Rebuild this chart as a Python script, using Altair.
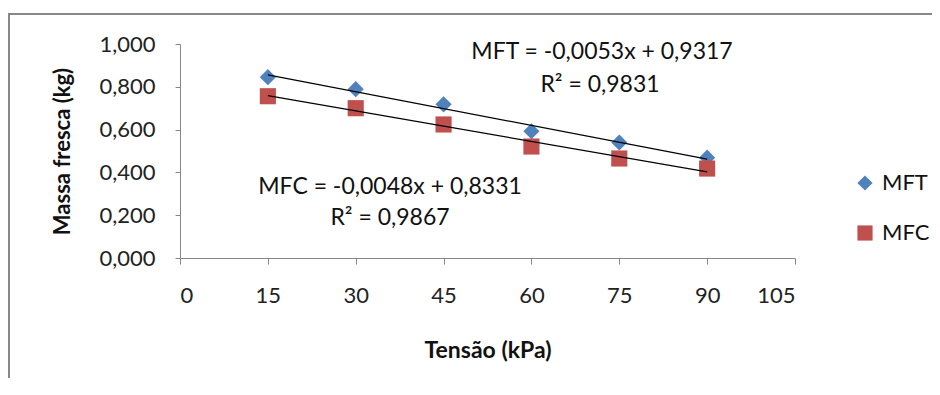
import altair as alt
import pandas as pd

tensao = [15, 30, 45, 60, 75, 90]
mft = [0.845, 0.789, 0.718, 0.592, 0.540, 0.469]
mfc = [0.756, 0.700, 0.624, 0.521, 0.465, 0.418]
series = ["MFT", "MFC"]
x_ticks = [0, 15, 30, 45, 60, 75, 90, 105]
y_ticks = [0.0, 0.2, 0.4, 0.6, 0.8, 1.0]
eq_mft = "MFT = -0,0053x + 0,9317"
r2_mft = "R² = 0,9831"
eq_mfc = "MFC = -0,0048x + 0,8331"
r2_mfc = "R² = 0,9867"

df = pd.DataFrame({
    "Tensao": tensao * 2,
    "Massa": mft + mfc,
    "Serie": [series[0]] * len(tensao) + [series[1]] * len(tensao),
})
one = pd.DataFrame({"k": [0]})

FONT = "Lato"
W, H = 615, 214
LBL = 22

xs = alt.X("Tensao:Q", scale=alt.Scale(domain=[0, 105], nice=False),
           axis=alt.Axis(values=x_ticks, title="Tensão (kPa)", grid=False,
                         tickSize=6, labelPadding=21, titlePadding=33,
                         labelFontSize=LBL, titleFontSize=23, titleFontWeight="bold",
                         labelFont=FONT, titleFont=FONT, labelColor="#222",
                         titleColor="#111", domainColor="#868686", tickColor="#868686"))
ys = alt.Y("Massa:Q", scale=alt.Scale(domain=[0, 1], nice=False),
           axis=alt.Axis(values=y_ticks, title="Massa fresca (kg)", grid=False,
                         labelExpr="replace(format(datum.value, '.3f'), '.', ',')",
                         tickSize=5, labelPadding=20, titlePadding=24,
                         labelFontSize=LBL, titleFontSize=22, titleFontWeight="bold",
                         labelFont=FONT, titleFont=FONT, labelColor="#222",
                         titleColor="#111", domainColor="#868686", tickColor="#868686"))

legend = alt.Legend(title=None, orient="none", legendX=674, legendY=128,
                    labelFontSize=22, labelFont=FONT, labelColor="#111",
                    symbolSize=230, rowPadding=28, labelOffset=6, symbolStrokeWidth=0)

base = alt.Chart(df)

points = base.mark_point(filled=True, opacity=1, size=260).encode(
    x=xs, y=ys,
    shape=alt.Shape("Serie:N", scale=alt.Scale(domain=series, range=["diamond", "square"]),
                    legend=legend),
    color=alt.Color("Serie:N", scale=alt.Scale(domain=series, range=["#4F81BD", "#C0504D"]),
                    legend=legend),
)

lines = base.transform_regression("Tensao", "Massa", groupby=["Serie"]).mark_line(
    color="black", strokeWidth=1.2).encode(x="Tensao:Q", y="Massa:Q", detail="Serie:N")

def label(txt, px, py):
    return alt.Chart(one).mark_text(fontSize=23, font=FONT, fill="#111",
                                    align="center", baseline="middle").encode(
        x=alt.value(px), y=alt.value(py), text=alt.value(txt))

t1 = label(eq_mft, 422, 8)
t2 = label(r2_mft, 420, 41)
t3 = label(eq_mfc, 210, 143)
t4 = label(r2_mfc, 210, 174)

border_top = alt.Chart(one).mark_rule(color="#888", strokeWidth=2).encode(
    x=alt.value(-172), x2=alt.value(760), y=alt.value(-30))
border_left = alt.Chart(one).mark_rule(color="#888", strokeWidth=2).encode(
    x=alt.value(-171), y=alt.value(-30), y2=alt.value(360))

chart = alt.layer(border_top, border_left, points, lines, t1, t2, t3, t4).properties(
    width=W, height=H,
    autosize=alt.AutoSizeParams(type="none"),
    padding={"left": 172, "top": 36, "right": 137, "bottom": 120},
).configure_view(stroke=None)

chart.save("out.html", embed_options={"renderer": "svg", "actions": False})
